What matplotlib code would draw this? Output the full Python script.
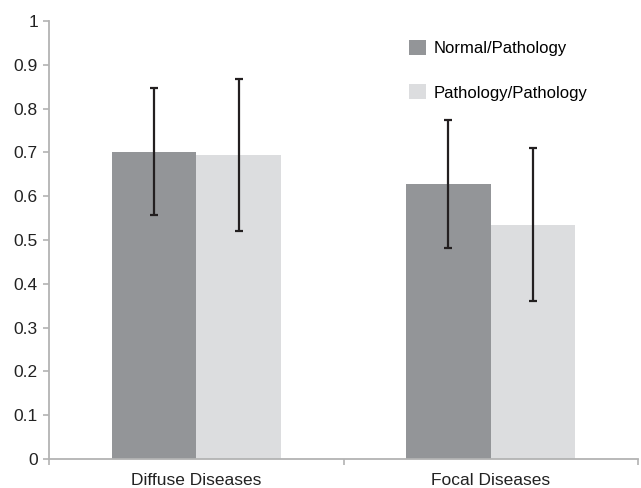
import matplotlib
matplotlib.use("Agg")
import matplotlib.pyplot as plt
import numpy as np

# ── data ─────────────────────────────────────────────────────────────────────
categories = ["Diffuse Diseases", "Focal Diseases"]
series_names = ["Normal/Pathology", "Pathology/Pathology"]
normal_vals = [0.702, 0.627]
normal_err = [0.146, 0.146]
patho_vals = [0.694, 0.535]
patho_err = [0.173, 0.174]
y_ticks = [0, 0.1, 0.2, 0.3, 0.4, 0.5, 0.6, 0.7, 0.8, 0.9, 1]

# ── style ─────────────────────────────────────────────────────────────────────
plt.rcParams["font.family"] = ["Liberation Sans", "DejaVu Sans"]
DARK, LIGHT = "#939598", "#dcdddf"
AXIS = "#b3b3b3"

fig = plt.figure(figsize=(6.41, 4.88), dpi=100)
ax = fig.add_axes([49 / 641, 1 - 459 / 488, 589 / 641, 438 / 488])

xs = np.arange(len(categories))
w = 0.287
ekw = dict(ecolor="#231f20", elinewidth=1.6, capsize=2.6, capthick=1.6)
ax.bar(xs - w / 2, normal_vals, w, color=DARK, label=series_names[0],
       yerr=normal_err, error_kw=ekw, zorder=2)
ax.bar(xs + w / 2, patho_vals, w, color=LIGHT, label=series_names[1],
       yerr=patho_err, error_kw=ekw, zorder=2)

ax.set_xlim(-0.5, len(categories) - 0.5)
ax.set_ylim(0, 1)
ax.set_yticks(y_ticks)
ax.set_yticklabels([f"{t:g}" for t in y_ticks])
ax.set_xticks(xs)
ax.set_xticklabels(categories, fontsize=12.5)
ax.set_xticks(np.arange(-0.5, len(categories)), minor=True)
ax.tick_params(axis="x", which="major", length=0, pad=10, colors="#222")
ax.tick_params(axis="x", which="minor", length=4, color=AXIS, width=1.2)
ax.tick_params(axis="y", length=4, color=AXIS, width=1.2, pad=4,
               labelsize=12.5, labelcolor="#222")

for side in ["top", "right"]:
    ax.spines[side].set_visible(False)
for side in ["left", "bottom"]:
    ax.spines[side].set_color(AXIS)
    ax.spines[side].set_linewidth(1.3)

ax.legend(loc="upper left", bbox_to_anchor=(409 / 641, 1 - 40 / 488),
          bbox_transform=fig.transFigure, frameon=False, fontsize=12,
          handlelength=1.0, handleheight=1.0, handletextpad=0.5,
          labelspacing=1.7, borderpad=0, borderaxespad=0)

fig.savefig("out.png", dpi=100)
